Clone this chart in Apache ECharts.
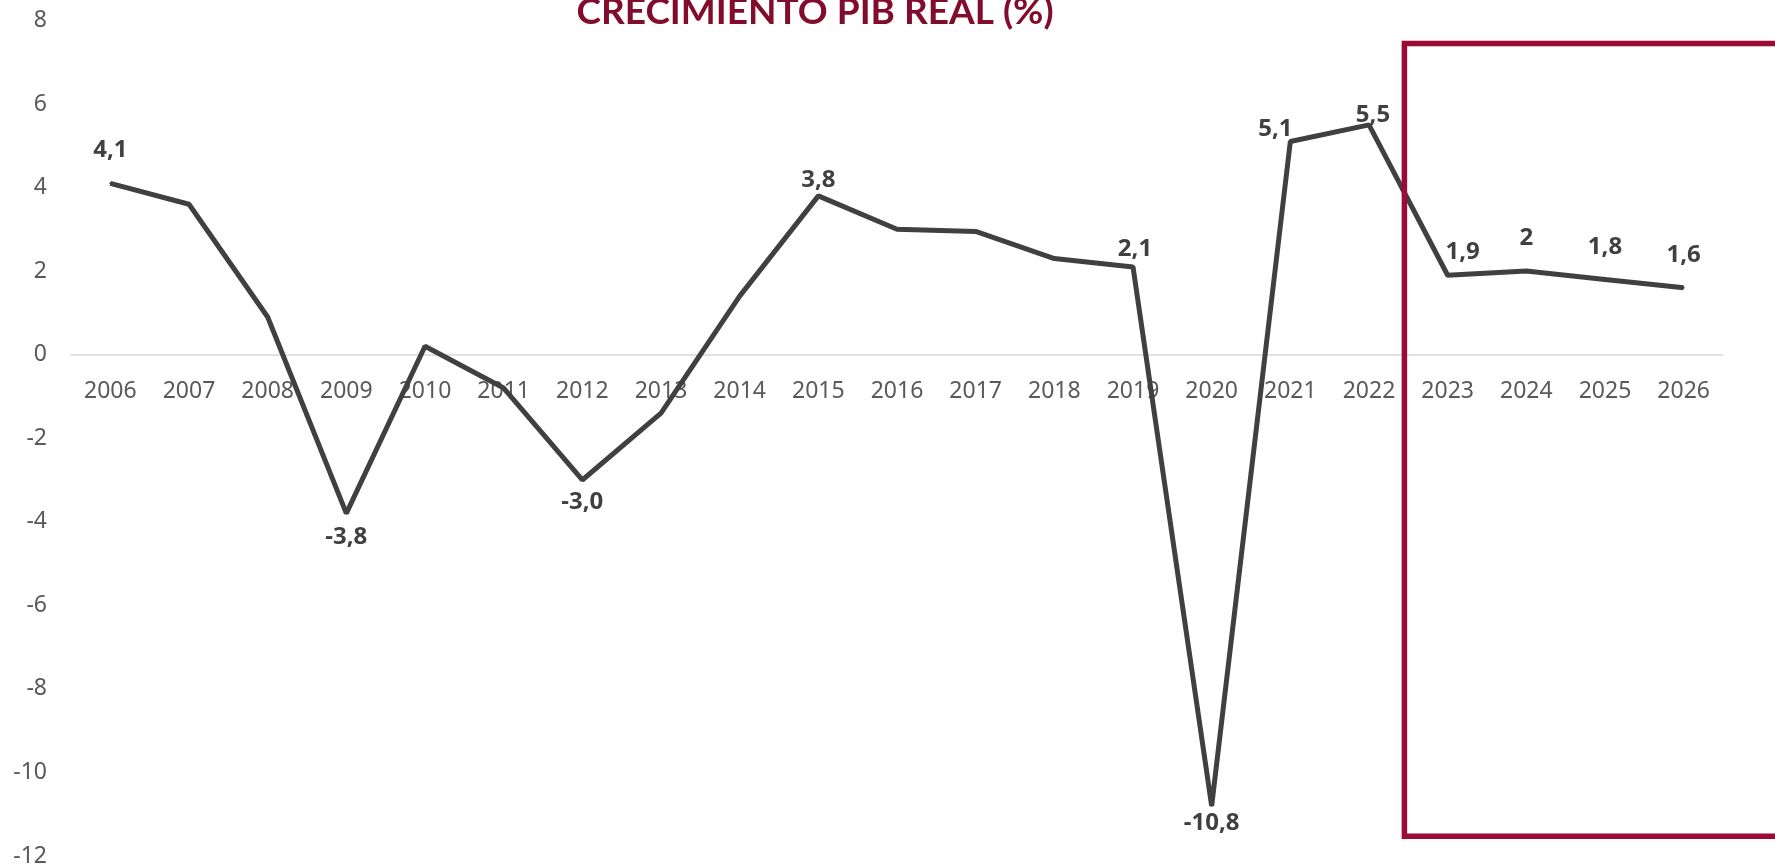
<!DOCTYPE html>
<html>
<head>
<meta charset="utf-8">
<script src="https://cdn.jsdelivr.net/npm/echarts@6/dist/echarts.min.js"></script>
<style>
  html, body { margin: 0; padding: 0; background: #fff; }
  #chart { width: 1775px; height: 868px; }
</style>
</head>
<body>
<div id="chart"></div>
<script>
// datos
const years = ['2006', '2007', '2008', '2009', '2010', '2011', '2012', '2013', '2014', '2015', '2016',
  '2017', '2018', '2019', '2020', '2021', '2022', '2023', '2024', '2025', '2026'];
const gdpGrowth = [4.1, 3.6, 0.9, -3.8, 0.2, -0.8, -3.0, -1.4, 1.4, 3.8, 3.0,
  2.95, 2.3, 2.1, -10.8, 5.1, 5.5, 1.9, 2.0, 1.8, 1.6];
const yTicks = [-12, -10, -8, -6, -4, -2, 0, 2, 4, 6, 8];
const forecastFrom = '2023';
const labeledYears = ['2006', '2009', '2012', '2015', '2019', '2020', '2021', '2022', '2023', '2024', '2025', '2026'];

// desplazamiento de las etiquetas (px) respecto al punto
const labelOffset = {
  '2006': [0, -33], '2009': [0, 24], '2012': [0, 22], '2015': [0, -16],
  '2019': [2, -18], '2020': [0, 17], '2021': [-15, -12], '2022': [4, -10],
  '2023': [15, -23], '2024': [0, -33], '2025': [0, -32], '2026': [0, -33]
};

const forecastIdx = years.indexOf(forecastFrom);

function fmt(v, i) {
  // previsiones en formato general, histórico con un decimal
  if (i >= forecastIdx) return String(v).replace('.', ',');
  return v.toFixed(1).replace('.', ',');
}

const seriesData = gdpGrowth.map((v, i) => {
  const y = years[i];
  if (labeledYears.indexOf(y) < 0) return v;
  return {
    value: v,
    label: { show: true, offset: labelOffset[y], formatter: fmt(v, i) }
  };
});

const chart = echarts.init(document.getElementById('chart'));
chart.setOption({
  animation: false,
  grid: { left: 71, right: 52, top: 20.4, bottom: 12, containLabel: false, outerBoundsMode: 'none' },
  xAxis: {
    type: 'category',
    data: years,
    boundaryGap: true,
    position: 'bottom',
    offset: 0,
    axisLine: { onZero: false, lineStyle: { color: '#d9d9d9', width: 1.5 } },
    axisTick: { show: false },
    axisLabel: { color: '#595959', fontSize: 23, fontFamily: 'Noto Sans', margin: 25, interval: 0 },
    z: 1
  },
  yAxis: {
    type: 'value',
    min: yTicks[0],
    max: yTicks[yTicks.length - 1],
    interval: 2,
    axisLine: { show: false },
    axisTick: { show: false },
    splitLine: { show: false },
    axisLabel: { color: '#595959', fontSize: 23, fontFamily: 'Noto Sans', margin: 24 }
  },
  series: [{
    type: 'line',
    data: seriesData,
    symbol: 'circle',
    symbolSize: 2,
    itemStyle: { color: '#404040' },
    lineStyle: { color: '#404040', width: 5 },
    z: 3,
    label: {
      show: false,
      position: 'inside',
      color: '#404040',
      fontSize: 24,
      fontWeight: 'bold',
      fontFamily: 'Noto Sans',
      align: 'center',
      verticalAlign: 'middle'
    }
  }]
});

// eje x sobre la linea de cero
const zeroPx = chart.convertToPixel({ yAxisIndex: 0 }, 0);
const bottomPx = chart.convertToPixel({ yAxisIndex: 0 }, yTicks[0]);

// titulo y recuadro de previsiones
const xa = chart.convertToPixel({ xAxisIndex: 0 }, years[forecastIdx - 1]);
const xb = chart.convertToPixel({ xAxisIndex: 0 }, years[forecastIdx]);
const boxLeft = xa + 0.45 * (xb - xa);
const boxTop = chart.convertToPixel({ yAxisIndex: 0 }, 7.45);
const boxBottom = chart.convertToPixel({ yAxisIndex: 0 }, -11.53);

chart.setOption({
  xAxis: { offset: zeroPx - bottomPx },
  graphic: [
    {
      type: 'text',
      x: 815,
      y: 12,
      style: {
        text: 'CRECIMIENTO PIB REAL (%)',
        fill: '#820C2E',
        font: 'bold 37px Lato',
        textAlign: 'center',
        textVerticalAlign: 'middle'
      }
    },
    {
      type: 'rect',
      shape: { x: boxLeft, y: boxTop, width: 1775 - boxLeft + 20, height: boxBottom - boxTop },
      style: { fill: 'none', stroke: '#9B0B35', lineWidth: 5.5 },
      z: 10
    }
  ]
});
</script>
</body>
</html>
